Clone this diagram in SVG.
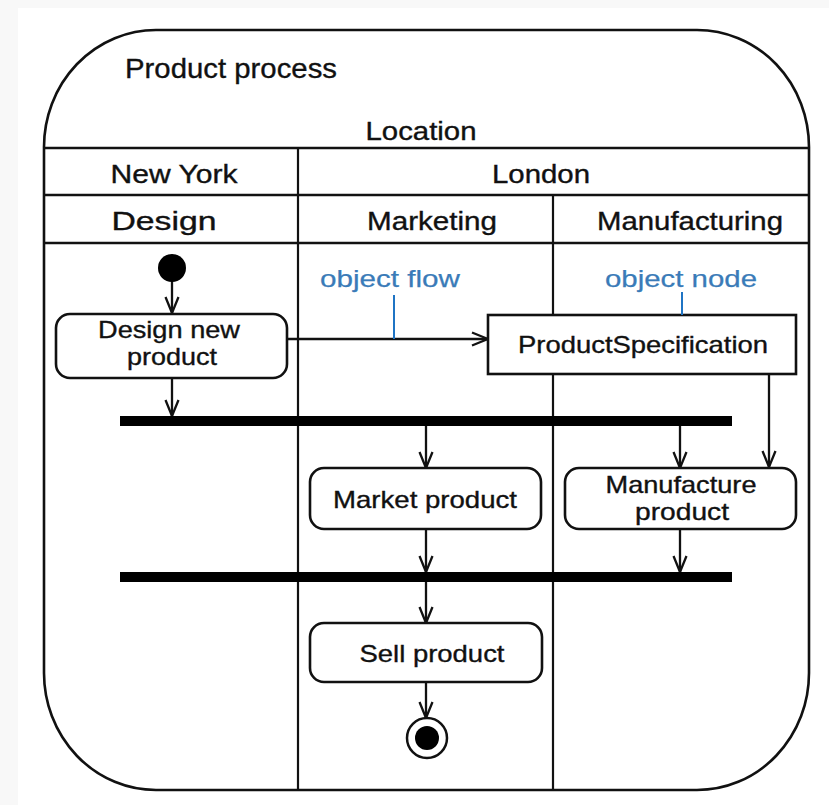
<svg xmlns="http://www.w3.org/2000/svg" width="829" height="805" viewBox="0 0 829 805">
<defs>
<style>
.t{font-family:"Liberation Sans",Arial,sans-serif;fill:#111;text-anchor:middle;stroke:#111;stroke-width:0.35}
.h{font-size:25px}
.n{font-size:24px}
.b{font-family:"Liberation Sans",Arial,sans-serif;font-size:24px;fill:#3a7bb8;text-anchor:middle;stroke:#3a7bb8;stroke-width:0.25}
.ln{stroke:#111;stroke-width:2.6;fill:none}
.lane{stroke:#111;stroke-width:2.2;fill:none}
.box{fill:#fff;stroke:#111;stroke-width:2.6}
.bar{fill:#000}
.c{stroke:#111;stroke-width:2.3;fill:none;marker-end:url(#ah)}
.ann{stroke:#1f74c4;stroke-width:2;fill:none}
</style>
<marker id="ah" viewBox="0 0 18 16" refX="17" refY="8" markerWidth="18" markerHeight="16" markerUnits="userSpaceOnUse" orient="auto">
<path d="M1,1.5 L17,8 L1,14.5" fill="none" stroke="#111" stroke-width="2.3"/>
</marker>
</defs>
<rect width="829" height="805" fill="#f8f8f8"/>
<rect x="18" y="8" width="811" height="797" fill="#fff"/>
<g id="frame">
<path class="ln" d="M156,30 H697 A112,117 0 0 1 809,147 V673 A112,117 0 0 1 697,790 H156 A112,117 0 0 1 44,673 V147 A112,117 0 0 1 156,30 Z"/>
<text class="t" x="231" y="78" style="font-size:28px" textLength="212" lengthAdjust="spacingAndGlyphs">Product process</text>
</g>
<g id="partitions">
<line class="ln" x1="44" y1="148" x2="809" y2="148"/>
<line class="ln" x1="44" y1="195" x2="809" y2="195"/>
<line class="ln" x1="44" y1="243" x2="809" y2="243"/>
<line class="lane" x1="298" y1="148" x2="298" y2="790"/>
<line class="lane" x1="553" y1="195" x2="553" y2="790"/>
<text class="t h" x="421" y="140" textLength="111" lengthAdjust="spacingAndGlyphs">Location</text>
<text class="t h" x="174" y="183" textLength="127" lengthAdjust="spacingAndGlyphs">New York</text>
<text class="t h" x="541" y="183" textLength="98" lengthAdjust="spacingAndGlyphs">London</text>
<text class="t h" x="164" y="230" textLength="105" lengthAdjust="spacingAndGlyphs">Design</text>
<text class="t h" x="432" y="230" textLength="130" lengthAdjust="spacingAndGlyphs">Marketing</text>
<text class="t h" x="690" y="230" textLength="186" lengthAdjust="spacingAndGlyphs">Manufacturing</text>
</g>
<g id="connectors">
<line class="c" x1="172" y1="280" x2="172" y2="313"/>
<line class="c" x1="287" y1="339" x2="488" y2="339"/>
<line class="c" x1="172" y1="378" x2="172" y2="416"/>
<line class="c" x1="426" y1="426" x2="426" y2="468"/>
<line class="c" x1="680" y1="426" x2="680" y2="468"/>
<line class="c" x1="769" y1="374" x2="769" y2="467"/>
<line class="c" x1="426" y1="529" x2="426" y2="572"/>
<line class="c" x1="680" y1="529" x2="680" y2="572"/>
<line class="c" x1="426" y1="582" x2="426" y2="623"/>
<line class="c" x1="426" y1="682" x2="426" y2="718"/>
</g>
<g id="initial">
<circle cx="172" cy="268" r="14" fill="#000"/>
</g>
<g id="design-new-product">
<rect class="box" x="56" y="314" width="231" height="64" rx="14"/>
<text class="t n" x="169" y="338" textLength="142" lengthAdjust="spacingAndGlyphs">Design new</text>
<text class="t n" x="172" y="365" textLength="90" lengthAdjust="spacingAndGlyphs">product</text>
</g>
<g id="product-specification">
<rect class="box" x="488" y="315" width="308" height="59"/>
<text class="t n" x="643" y="353" textLength="250" lengthAdjust="spacingAndGlyphs">ProductSpecification</text>
</g>
<g id="object-flow-note">
<text class="b" x="390" y="287" textLength="140" lengthAdjust="spacingAndGlyphs">object flow</text>
<line class="ann" x1="394" y1="295" x2="394" y2="339"/>
</g>
<g id="object-node-note">
<text class="b" x="681" y="287" textLength="152" lengthAdjust="spacingAndGlyphs">object node</text>
<line class="ann" x1="682" y1="292" x2="682" y2="315"/>
</g>
<g id="fork1">
<rect class="bar" x="120" y="416" width="612" height="10"/>
</g>
<g id="market-product">
<rect class="box" x="310" y="468" width="231" height="61" rx="14"/>
<text class="t n" x="425" y="508" textLength="184" lengthAdjust="spacingAndGlyphs">Market product</text>
</g>
<g id="manufacture-product">
<rect class="box" x="565" y="468" width="231" height="61" rx="14"/>
<text class="t n" x="681" y="493" textLength="151" lengthAdjust="spacingAndGlyphs">Manufacture</text>
<text class="t n" x="682" y="520" textLength="94" lengthAdjust="spacingAndGlyphs">product</text>
</g>
<g id="join">
<rect class="bar" x="120" y="572" width="612" height="10"/>
</g>
<g id="sell-product">
<rect class="box" x="310" y="623" width="232" height="59" rx="14"/>
<text class="t n" x="432" y="662" textLength="145" lengthAdjust="spacingAndGlyphs">Sell product</text>
</g>
<g id="final">
<circle cx="427" cy="738" r="20" fill="#fff" stroke="#111" stroke-width="2.5"/>
<circle cx="427" cy="738" r="12" fill="#000"/>
</g>
</svg>
